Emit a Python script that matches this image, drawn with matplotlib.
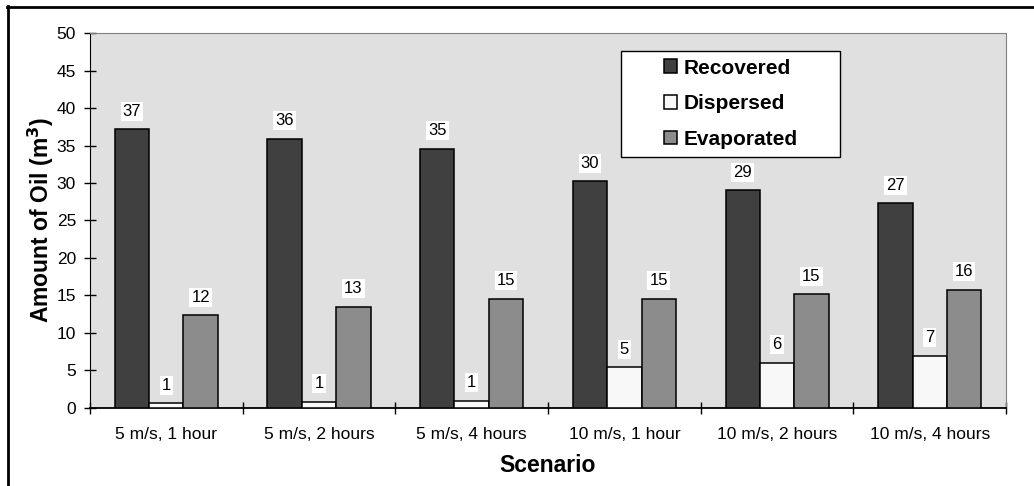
import numpy as np
from matplotlib import pyplot as plt
from matplotlib.patches import Rectangle
from matplotlib.lines import Line2D

plt.rcParams['font.family'] = ['Liberation Sans', 'DejaVu Sans']

# 数据
scenarios = ['5 m/s, 1 hour', '5 m/s, 2 hours', '5 m/s, 4 hours',
             '10 m/s, 1 hour', '10 m/s, 2 hours', '10 m/s, 4 hours']
recovered = [37.2, 35.9, 34.6, 30.2, 29.0, 27.3]
dispersed = [0.56, 0.73, 0.91, 5.4, 6.0, 6.9]
evaporated = [12.3, 13.45, 14.55, 14.55, 15.1, 15.7]
series_names = ['Recovered', 'Dispersed', 'Evaporated']

colors = ['#404040', '#F8F8F8', '#8C8C8C']

fig = plt.figure(figsize=(10.34, 4.86), dpi=100)
ax = fig.add_axes([0.087, 0.1615, 0.886, 0.77])
ax.set_facecolor('#E0E0E0')

x = np.arange(len(scenarios))
w = 0.225
for k, vals in enumerate([recovered, dispersed, evaporated]):
    bars = ax.bar(x + (k - 1) * w, vals, w, color=colors[k], edgecolor='black',
                  linewidth=1.1, label=series_names[k], zorder=3)
    for b, v in zip(bars, vals):
        ax.annotate('{:.0f}'.format(v), (b.get_x() + b.get_width() / 2, v),
                    xytext=(0, 13), textcoords='offset points',
                    ha='center', va='center', fontsize=12,
                    bbox=dict(boxstyle='square,pad=0.12', fc='white', ec='none'),
                    zorder=4)

ax.set_xlim(-0.5, len(scenarios) - 0.5)
ax.set_ylim(0, 50)
ax.set_yticks(np.arange(0, 51, 5))
ax.set_xticks(x)
ax.set_xticklabels(scenarios, fontsize=12.5)
ax.set_xticks(np.arange(-0.5, len(scenarios), 1.0), minor=True)
ax.tick_params(axis='x', which='major', length=0, pad=14)
ax.tick_params(axis='x', which='minor', direction='inout', length=8, width=1)
ax.tick_params(axis='y', labelsize=12.5, direction='inout', length=8, width=1, pad=6)

for s in ['top', 'right']:
    ax.spines[s].set_color('#808080')
ax.spines['left'].set_color('black')
ax.spines['bottom'].set_linewidth(1.3)

ax.set_xlabel('Scenario', fontsize=16.5, fontweight='bold')
ax.xaxis.label.set_va('center')
ax.xaxis.set_label_coords(0.5, -0.156)
ax.set_ylabel('Amount of Oil (m$^\\mathbf{3}$)', fontsize=16.5, fontweight='bold')
ax.yaxis.label.set_va('center')
ax.yaxis.set_label_coords(-0.0535, 0.5)

# 图例：白底黑框
ax.add_patch(Rectangle((0.580, 0.670), 0.239, 0.2835, transform=ax.transAxes,
                       fc='white', ec='black', lw=1.0, zorder=5))
leg = ax.legend(loc='center', bbox_to_anchor=(0.6995, 0.8118), frameon=False,
                prop={'weight': 'bold', 'size': 15}, handlelength=0.62,
                handleheight=0.62, handletextpad=0.3, labelspacing=0.8)
leg.set_zorder(6)

# 外框（只露出左边和上边）
fig.add_artist(Line2D([0.0075, 0.0075], [0, 0.987], transform=fig.transFigure,
                      color='black', lw=2))
fig.add_artist(Line2D([0.0065, 1.0], [0.986, 0.986], transform=fig.transFigure,
                      color='black', lw=2))

plt.savefig('out.png', dpi=100)
